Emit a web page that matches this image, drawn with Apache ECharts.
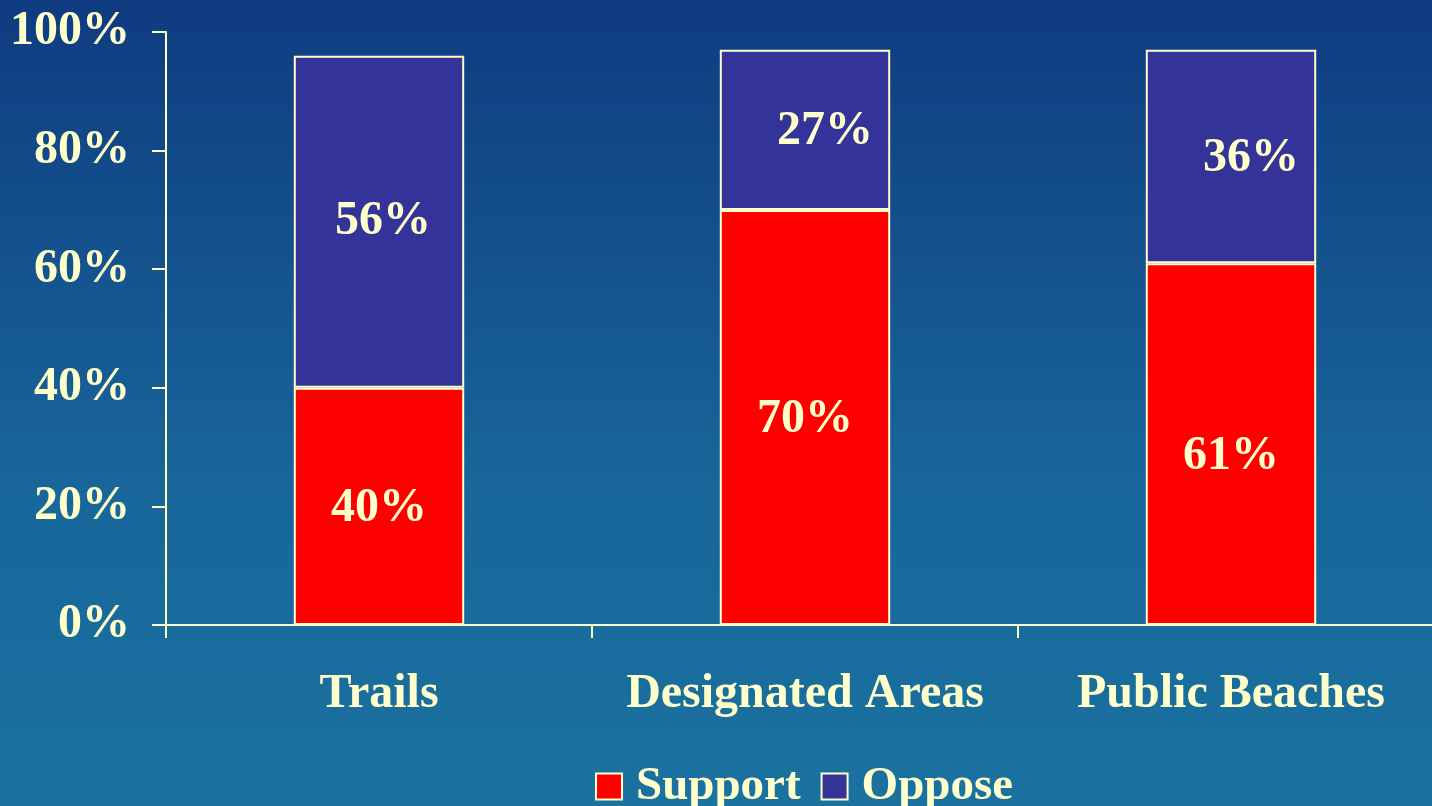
<!DOCTYPE html>
<html>
<head>
<meta charset="utf-8">
<script src="https://cdn.jsdelivr.net/npm/echarts@6/dist/echarts.min.js"></script>
<style>
  html, body { margin: 0; padding: 0; }
  #main { width: 1432px; height: 806px; }
</style>
</head>
<body>
<div id="main"></div>
<script>
const categories = ['Trails', 'Designated Areas', 'Public Beaches'];
const supportValues = [40, 70, 61];
const opposeValues = [56, 27, 36];

const cream = '#FFFFCC';
const font = '"Liberation Serif", "Times New Roman", serif';

const chart = echarts.init(document.getElementById('main'), null, { renderer: 'canvas' });

// label style shared by both series
const barLabel = {
  show: true,
  position: 'inside',
  color: cream,
  fontFamily: font,
  fontWeight: 'bold',
  fontSize: 48,
  formatter: p => p.value + '%'
};

// small nudges so labels sit where the original had them
const supportOffsets = [[0, 2], [0, 2], [0, 12]];
const opposeOffsets = [[4, 0], [20, 2], [20, 2]];

chart.setOption({
  backgroundColor: {
    type: 'linear', x: 0, y: 0, x2: 0, y2: 1,
    colorStops: [
      { offset: 0, color: '#0f3b80' },
      { offset: 0.6, color: '#18669a' },
      { offset: 1, color: '#1a72a0' }
    ]
  },
  animation: false,
  // the plot runs a little past the right edge in the original
  grid: { left: 166, top: 32, bottom: 181, width: 1278, outerBoundsMode: 'none' },
  legend: {
    top: 758,
    left: 590,
    itemWidth: 26,
    itemHeight: 26,
    itemGap: 20,
    icon: 'rect',
    textStyle: { color: cream, fontFamily: font, fontWeight: 'bold', fontSize: 47, padding: [0, 0, 0, 9] },
    data: ['Support', 'Oppose']
  },
  xAxis: {
    type: 'category',
    data: categories,
    axisLine: { lineStyle: { color: cream, width: 2 } },
    axisTick: { show: true, interval: 0, length: 13, lineStyle: { color: cream, width: 2 } },
    axisLabel: { interval: 0, color: cream, fontFamily: font, fontWeight: 'bold', fontSize: 48, margin: 46 }
  },
  yAxis: {
    type: 'value',
    min: 0,
    max: 100,
    interval: 20,
    axisLine: { show: true, lineStyle: { color: cream, width: 2 } },
    axisTick: { show: true, length: 14, lineStyle: { color: cream, width: 2 } },
    splitLine: { show: false },
    axisLabel: { color: cream, fontFamily: font, fontWeight: 'bold', fontSize: 48, margin: 36, formatter: '{value}%' }
  },
  series: [
    {
      name: 'Support',
      type: 'bar',
      stack: 'total',
      barWidth: '40%',
      data: supportValues.map((v, i) => ({ value: v, label: { offset: supportOffsets[i] } })),
      itemStyle: { color: '#FF0000', borderColor: cream, borderWidth: 2 },
      label: barLabel
    },
    {
      name: 'Oppose',
      type: 'bar',
      stack: 'total',
      barWidth: '40%',
      data: opposeValues.map((v, i) => ({ value: v, label: { offset: opposeOffsets[i] } })),
      itemStyle: { color: '#333399', borderColor: cream, borderWidth: 2 },
      label: barLabel
    }
  ]
});
</script>
</body>
</html>
